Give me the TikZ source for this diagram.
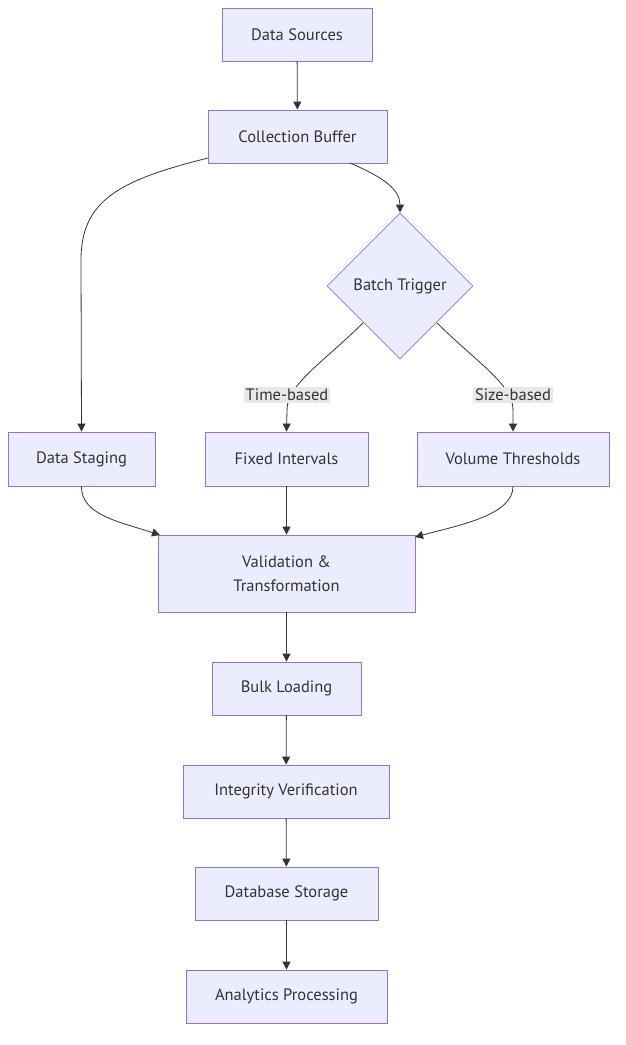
\documentclass[tikz,border=0pt]{standalone}
\usepackage{fontspec}
\setmainfont{PT Sans}
\usetikzlibrary{shapes.geometric,arrows.meta}
\definecolor{nodefill}{HTML}{ECECFF}
\definecolor{nodeline}{HTML}{9370DB}
\definecolor{edgec}{HTML}{333333}
\definecolor{lblbg}{HTML}{E8E8E8}
\tikzset{
  box/.style={draw=nodeline, fill=nodefill, line width=0.8pt, inner sep=0pt, font=\fontsize{16.5}{24}\selectfont, text=edgec, align=center},
  dia/.style={draw=nodeline, fill=nodefill, line width=0.8pt, diamond, minimum width=146pt, minimum height=146pt, inner sep=0pt, font=\fontsize{16.5}{24}\selectfont, text=edgec},
  edge/.style={draw=edgec, line width=0.8pt, -{Triangle[length=8pt,width=8pt]}},
  lbl/.style={fill=lblbg, inner xsep=2pt, inner ysep=2.5pt, font=\fontsize{16.5}{20}\selectfont, text=edgec}
}
\begin{document}
\begin{tikzpicture}[x=1pt,y=-1pt]
\useasboundingbox (0,0) rectangle (625,1045);
\fill[white] (0,0) rectangle (625,1045);
\node[box, minimum width=150pt, minimum height=53pt] (src) at (297,34.5) {Data Sources};
\node[box, minimum width=179pt, minimum height=53pt] (buf) at (297.5,136.5) {Collection Buffer};
\node[dia] (trig) at (400,286) {Batch Trigger};
\node[box, minimum width=147pt, minimum height=54pt] (stage) at (81.5,459) {Data Staging};
\node[box, minimum width=163pt, minimum height=54pt] (fixed) at (286.5,459) {Fixed Intervals};
\node[box, minimum width=192pt, minimum height=54pt] (vol) at (513,459) {Volume Thresholds};
\node[box, minimum width=257pt, minimum height=77pt] (val) at (286.5,573.5) {Validation \&\\Transformation};
\node[box, minimum width=149pt, minimum height=53pt] (bulk) at (286.5,688.5) {Bulk Loading};
\node[box, minimum width=206pt, minimum height=53pt] (integ) at (286,791.5) {Integrity Verification};
\node[box, minimum width=183pt, minimum height=53pt] (db) at (286.5,893.5) {Database Storage};
\node[box, minimum width=201pt, minimum height=53pt] (ana) at (286.5,996.5) {Analytics Processing};

\coordinate (bufL) at (208,158);
\coordinate (bufR) at (350,163);
\coordinate (trigL) at (363,323);
\coordinate (trigR) at (437,323);
\coordinate (valL) at (160,535);
\coordinate (valR) at (415,537);

\draw[edge] (src) -- (buf);
\draw[edge] (bufL) .. controls (120,180) and (81,200) .. (81,260) -- (stage.north);
\draw[edge] (bufR) .. controls (385,178) and (400,190) .. (trig.north);
\draw[edge] (trigL) .. controls (320,365) and (287,385) .. (287,410) -- (fixed.north);
\draw[edge] (trigR) .. controls (480,365) and (513,385) .. (513,410) -- (vol.north);
\node[lbl] (tb) at (287,395) {Time-based};
\node[lbl] (sb) at (513,395) {Size-based};
\draw[edge] (stage.south) .. controls (81,515) and (120,522) .. (valL);
\draw[edge] (fixed) -- (val);
\draw[edge] (vol.south) .. controls (513,515) and (460,525) .. (valR);
\draw[edge] (val) -- (bulk);
\draw[edge] (bulk) -- (integ);
\draw[edge] (integ) -- (db);
\draw[edge] (db) -- (ana);
\end{tikzpicture}
\end{document}
